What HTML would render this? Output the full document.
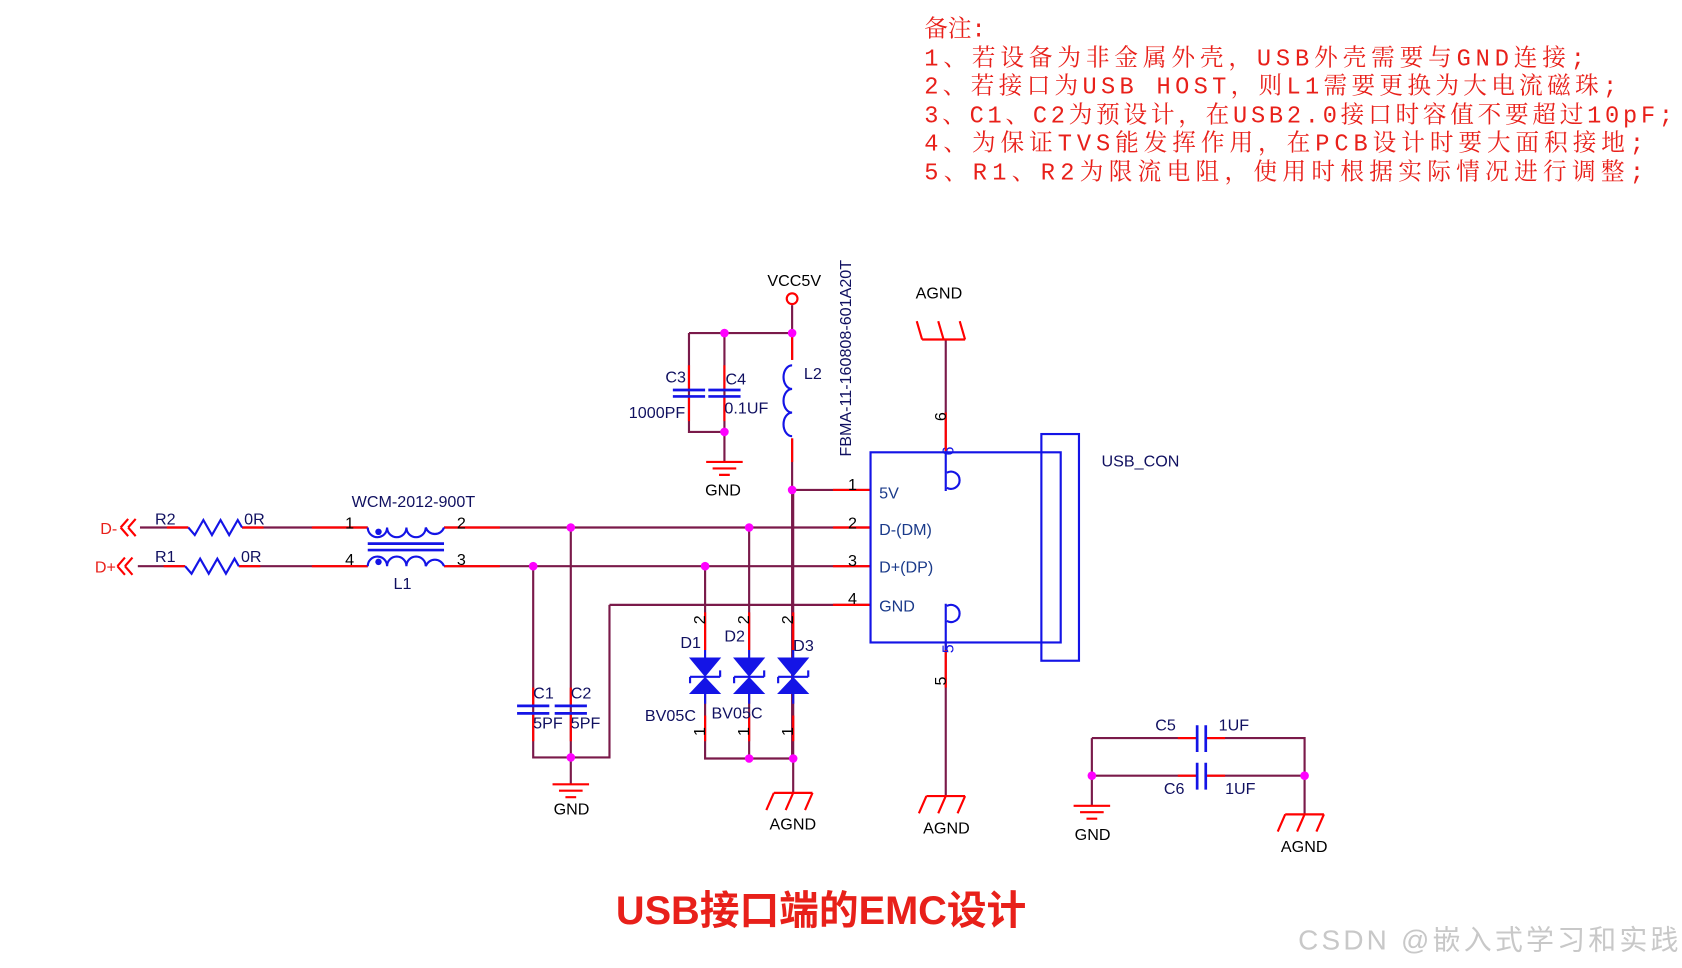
<!DOCTYPE html>
<html><head><meta charset="utf-8"><style>
html,body{margin:0;padding:0;background:#fff}
svg{display:block}
.t{font-family:"Liberation Sans",sans-serif;font-size:15px}
</style></head><body>
<svg width="1682" height="968" viewBox="0 0 1565 901" xmlns="http://www.w3.org/2000/svg">
<rect width="1565" height="901" fill="#fff"/>
<!-- notes -->
<g font-family="'Liberation Mono','Noto Serif CJK SC',serif" font-size="22" fill="#e8201a" lengthAdjust="spacing">
<text x="860" y="34">备注:</text>
<text x="860" y="61" textLength="615">1、若设备为非金属外壳，USB外壳需要与GND连接;</text>
<text x="860" y="87" textLength="645">2、若接口为USB HOST，则L1需要更换为大电流磁珠;</text>
<text x="860" y="114" textLength="697">3、C1、C2为预设计，在USB2.0接口时容值不要超过10pF;</text>
<text x="860" y="140" textLength="670">4、为保证TVS能发挥作用，在PCB设计时要大面积接地;</text>
<text x="860" y="167" textLength="670">5、R1、R2为限流电阻，使用时根据实际情况进行调整;</text>
</g>
<text x="573" y="860" textLength="382" font-family="'Liberation Sans','Noto Sans CJK SC',sans-serif" font-weight="bold" font-size="37" fill="#e8201a">USB接口端的EMC设计</text>
<text x="1208" y="884" textLength="354" font-family="'Liberation Sans','Noto Sans CJK SC',sans-serif" font-size="26" fill="#c8c8c8">CSDN @嵌入式学习和实践</text>

<g fill="none" stroke-width="2">
<g stroke="#7a1a4a">
<path d="M130 491H175M225 491H342M413 491H810"/>
<path d="M128 527H172M222 527H342M413 527H810"/>
<path d="M737 456H810M567 563H810M567 563V705H496V527M531 491V730"/>
<path d="M737 284V335M737 408V706M641 310H737M641 310V402H674M674 310V430"/>
<path d="M656 527V605M697 491V605M738 456V605M656 646V706H738M738 646V738M697 646V706"/>
<path d="M880 316V420M880 598V741"/>
<path d="M1016 722V750M1016 687V722H1114M1016 687H1114M1122 687H1214V758M1122 722H1214"/>
</g>
<g stroke="#f00">
<path d="M155 491H175M225 491H245M290 491H342M413 491H465"/>
<path d="M152 527H172M222 527H242M290 527H342M413 527H465"/>
<path d="M775 456H810M775 491H810M775 527H810M775 563H810"/>
<path d="M641 340V363M641 369V392M674 340V363M674 369V392M737 310V335M737 408V430"/>
<path d="M496 640V657M496 664V690M531 640V657M531 664V690"/>
<path d="M656 570V605M697 570V605M738 570V605M656 666V690M697 666V690M738 666V690"/>
<path d="M880 384V420M880 605V640M1096 687H1114M1122 687H1140M1096 722H1114M1122 722H1140"/>
</g>
<g stroke="#1414e6">
<path d="M175 491l6 7 8-14 8 14 8-14 8 14 8-14 4 7"/>
<path d="M172 527l6 7 8-14 8 14 8-14 8 14 8-14 4 7"/>
<path d="M342 491a9 9 0 0 0 18 0a9 9 0 0 0 18 0a9 9 0 0 0 18 0a9 9 0 0 0 17 0"/>
<path d="M342 527a9 9 0 0 1 18 0a9 9 0 0 1 18 0a9 9 0 0 1 18 0a9 9 0 0 1 17 0"/>
<path d="M342 506H413M342 512H413" stroke-width="2.5"/>
<path d="M737 340a8 11 0 0 0 0 22a8 11 0 0 0 0 22a8 11 0 0 0 0 22" />
<path d="M626 363H656M626 369H656M659 363H689M659 369H689" stroke-width="2.5"/>
<path d="M481 657H511M481 664H511M516 657H546M516 664H546" stroke-width="2.5"/>
<path d="M1114 675V700M1122 675V700M1114 710V735M1122 710V735" stroke-width="2.5"/>
<rect x="810" y="421" width="177" height="177"/>
<rect x="969" y="404" width="35" height="211"/>
<path d="M880 420V457M880 562V605"/>
<path d="M881 440a8 8 0 1 1 0 14M881 564a8 8 0 1 1 0 14"/>
<path d="M656 605V612M656 646V655M697 605V612M697 646V655M738 605V612M738 646V655"/>
<path d="M642 630H670M683 630H711M724 630H752" />
<path d="M642 630v6M670 630v-6M683 630v6M711 630v-6M724 630v6M752 630v-6"/>
</g>
<g fill="#1414e6" stroke="none">
<path d="M641 612H671L656 630ZM641 646H671L656 630Z"/>
<path d="M682 612H712L697 630ZM682 646H712L697 630Z"/>
<path d="M723 612H753L738 630ZM723 646H753L738 630Z"/>
<circle cx="352" cy="495" r="3"/><circle cx="352" cy="523" r="3"/>
</g>
<g stroke="#f00">
<path d="M112 491l7-8M112 491l7 8M119 491l7-8M119 491l7 8"/>
<path d="M109 527l7-8M109 527l7 8M116 527l7-8M116 527l7 8"/>
<path d="M514 730H548M520 736H542M526 742H536"/>
<path d="M657 430H691M663 436H685M669 442H679"/>
<path d="M999 750H1033M1005 756H1027M1011 762H1021"/>
<path d="M858 316H898M858 316l-5-17M878 316l-5-17M898 316l-5-17"/>
<path d="M720 738H756M720 738l-7 16M738 738l-7 16M756 738l-7 16"/>
<path d="M862 741H898M862 741l-7 16M880 741l-7 16M898 741l-7 16"/>
<path d="M1196 758H1232M1196 758l-7 16M1214 758l-7 16M1232 758l-7 16"/>
</g>
<circle cx="737" cy="278" r="5" stroke="#f00"/>
</g>
<g fill="#ff00ff">
<circle cx="531" cy="491" r="4"/><circle cx="697" cy="491" r="4"/><circle cx="496" cy="527" r="4"/><circle cx="656" cy="527" r="4"/>
<circle cx="737" cy="456" r="4"/><circle cx="737" cy="310" r="4"/><circle cx="674" cy="310" r="4"/><circle cx="674" cy="402" r="4"/>
<circle cx="531" cy="705" r="4"/><circle cx="697" cy="706" r="4"/><circle cx="738" cy="706" r="4"/>
<circle cx="1016" cy="722" r="4"/><circle cx="1214" cy="722" r="4"/>
</g>
<g class="t" fill="#e8201a"><text x="93" y="497">D-</text><text x="88" y="533">D+</text></g>
<g class="t" fill="#101060">
<text x="144" y="488">R2</text><text x="227" y="488">0R</text>
<text x="144" y="523">R1</text><text x="224" y="523">0R</text>
<text x="327" y="472">WCM-2012-900T</text><text x="366" y="548">L1</text>
<text x="619" y="356">C3</text><text x="675" y="358">C4</text>
<text x="585" y="389">1000PF</text><text x="674" y="385">0.1UF</text>
<text x="748" y="353">L2</text>
<text x="496" y="650">C1</text><text x="531" y="650">C2</text>
<text x="496" y="678">5PF</text><text x="531" y="678">5PF</text>
<text x="633" y="603">D1</text><text x="674" y="597">D2</text><text x="738" y="606">D3</text>
<text x="600" y="671">BV05C</text><text x="662" y="669">BV05C</text>
<text x="1025" y="434">USB_CON</text>
<text x="1075" y="680">C5</text><text x="1134" y="680">1UF</text>
<text x="1083" y="739">C6</text><text x="1140" y="739">1UF</text>
<text transform="translate(792 425) rotate(-90)">FBMA-11-160808-601A20T</text>
</g>
<g class="t" fill="#1a3a8a">
<text x="818" y="464">5V</text><text x="818" y="498">D-(DM)</text><text x="818" y="533">D+(DP)</text><text x="818" y="569">GND</text>
</g>
<g class="t" fill="#000">
<text x="321" y="492">1</text><text x="425" y="492">2</text><text x="321" y="526">4</text><text x="425" y="526">3</text>
<text x="789" y="456">1</text><text x="789" y="492">2</text><text x="789" y="527">3</text><text x="789" y="562">4</text>
<text x="714" y="266">VCC5V</text><text x="852" y="278">AGND</text>
<text x="656" y="461">GND</text><text x="515" y="758">GND</text>
<text x="716" y="772">AGND</text><text x="859" y="776">AGND</text>
<text x="1000" y="782">GND</text><text x="1192" y="793">AGND</text>
<text transform="translate(880 392) rotate(-90)">6</text>
<text transform="translate(880 638) rotate(-90)">5</text>
<text transform="translate(656 581) rotate(-90)">2</text><text transform="translate(697 581) rotate(-90)">2</text><text transform="translate(738 581) rotate(-90)">2</text>
<text transform="translate(656 685) rotate(-90)">1</text><text transform="translate(697 685) rotate(-90)">1</text><text transform="translate(738 685) rotate(-90)">1</text>
</g>
<g class="t" fill="#1414e6">
<text transform="translate(887 424) rotate(-90)">6</text>
<text transform="translate(887 608) rotate(-90)">5</text>
</g>
</svg>
</body></html>
